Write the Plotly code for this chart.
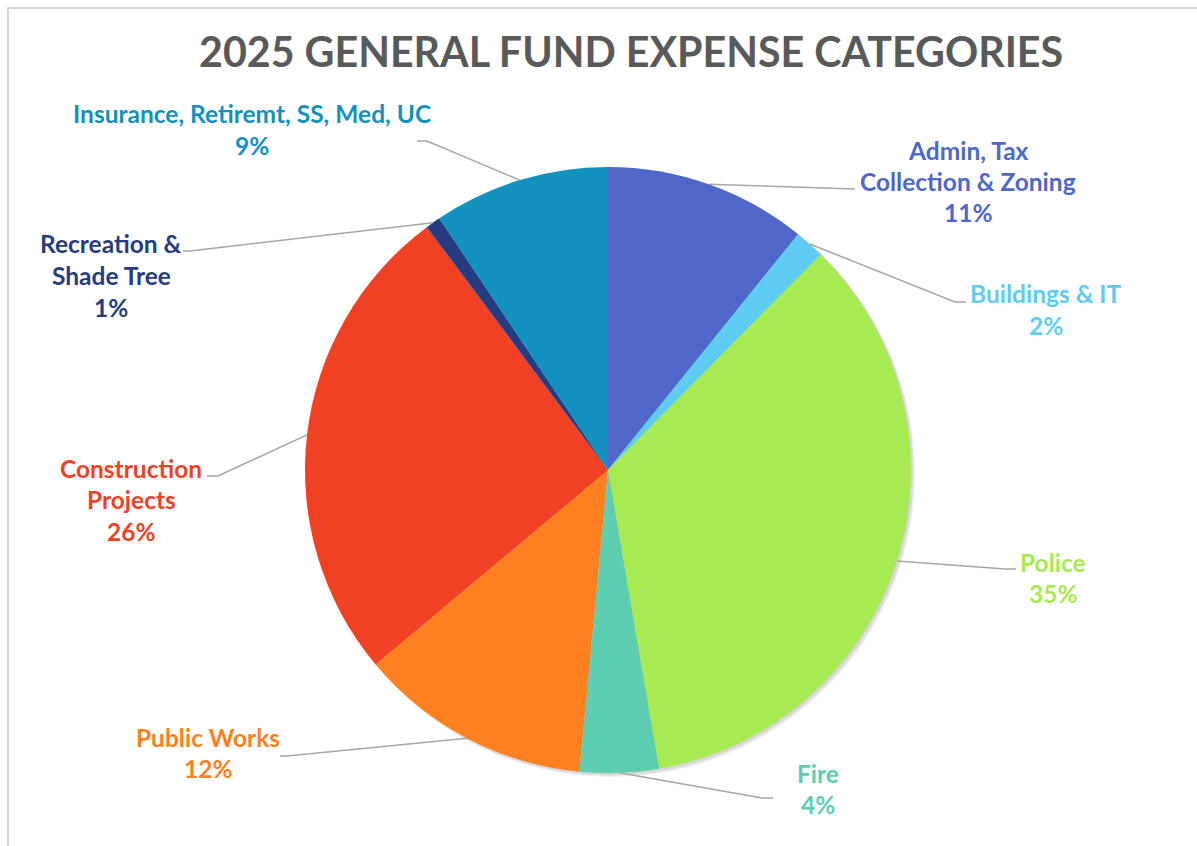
import math
import plotly.graph_objects as go

# Expense categories, clockwise from 12 o'clock
categories = [
    "Admin, Tax<br>Collection & Zoning",
    "Buildings & IT",
    "Police",
    "Fire",
    "Public Works",
    "Construction<br>Projects",
    "Recreation &<br>Shade Tree",
    "Insurance, Retiremt, SS, Med, UC",
]
shares = [10.8, 1.6, 34.9, 4.2, 12.4, 25.9, 0.8, 9.4]
colors = ["#4E67C8", "#5ECCF3", "#A7EA52", "#5DCEAF",
          "#FF8021", "#F14124", "#263C80", "#1290BE"]

W, H = 1197, 846
CX, CY, R = 608, 470, 303

# label layout in pixels: centre x, first line y, leader elbow, leader end
label_layout = [
    (968, 150, (855, 189), (855, 189)),
    (1046, 294, (955, 302), (966, 302)),
    (1053, 562, (1005, 569), (1016, 569)),
    (818, 773, (762, 798), (773, 798)),
    (208, 737, (287, 756), (280, 756)),
    (131, 468, (218, 476), (207, 476)),
    (111, 244, (190, 251), (183, 251)),
    (252, 114, (427, 141), (417, 141)),
]
LINE_STEP = 31.5


def px(x):
    return x / W


def py(y):
    return 1 - y / H


fig = go.Figure()
fig.add_trace(go.Pie(
    labels=categories,
    values=shares,
    marker=dict(colors=colors, line=dict(width=0)),
    sort=False,
    direction="clockwise",
    rotation=0,
    textinfo="none",
    hoverinfo="skip",
    showlegend=False,
    domain=dict(x=[px(CX - R), px(CX + R)], y=[py(CY + R), py(CY - R)]),
))

shapes = []
# soft drop shadow under the pie
for i, a in enumerate([0.05, 0.05, 0.06]):
    off = 1 + i
    shapes.append(dict(
        type="circle", xref="paper", yref="paper", layer="below",
        x0=px(CX - R + off), x1=px(CX + R + off + 1),
        y0=py(CY + R + off + 1), y1=py(CY - R + off),
        fillcolor=f"rgba(0,0,0,{a})", line=dict(width=0),
    ))

# chart frame
shapes.append(dict(type="line", xref="paper", yref="paper",
                   x0=px(7), x1=px(W + 5), y0=py(8), y1=py(8),
                   line=dict(color="#D9D9D9", width=2)))
shapes.append(dict(type="line", xref="paper", yref="paper",
                   x0=px(8), x1=px(8), y0=py(8), y1=py(H + 5),
                   line=dict(color="#D9D9D9", width=2)))

annotations = []
total = sum(shares)
cum = 0.0
for name, v, col, (lx, ly, elbow, end) in zip(categories, shares, colors, label_layout):
    theta = 2 * math.pi * (cum + v / 2) / total
    cum += v
    sx = CX + R * math.sin(theta)
    sy = CY - R * math.cos(theta)
    path = f"M{px(sx)},{py(sy)} L{px(elbow[0])},{py(elbow[1])} L{px(end[0])},{py(end[1])}"
    shapes.append(dict(type="path", xref="paper", yref="paper", path=path,
                       line=dict(color="#A6A6A6", width=1.5)))
    lines = name.split("<br>") + [f"{round(v / total * 100):.0f}%"]
    for k, t in enumerate(lines):
        annotations.append(dict(
            text=f"<b>{t}</b>", xref="paper", yref="paper",
            x=px(lx), y=py(ly + k * LINE_STEP), xanchor="center", yanchor="middle",
            showarrow=False, font=dict(family="Lato", size=24.5, color=col),
        ))

annotations.append(dict(
    text="<b>2025 GENERAL FUND EXPENSE CATEGORIES</b>",
    xref="paper", yref="paper", x=px(631), y=py(51),
    xanchor="center", yanchor="middle", showarrow=False,
    font=dict(family="Lato", size=41.2, color="#595959"),
))

fig.update_layout(
    width=W, height=H,
    margin=dict(l=0, r=0, t=0, b=0),
    paper_bgcolor="white",
    plot_bgcolor="white",
    shapes=shapes,
    annotations=annotations,
)

fig.write_html("out.html")
